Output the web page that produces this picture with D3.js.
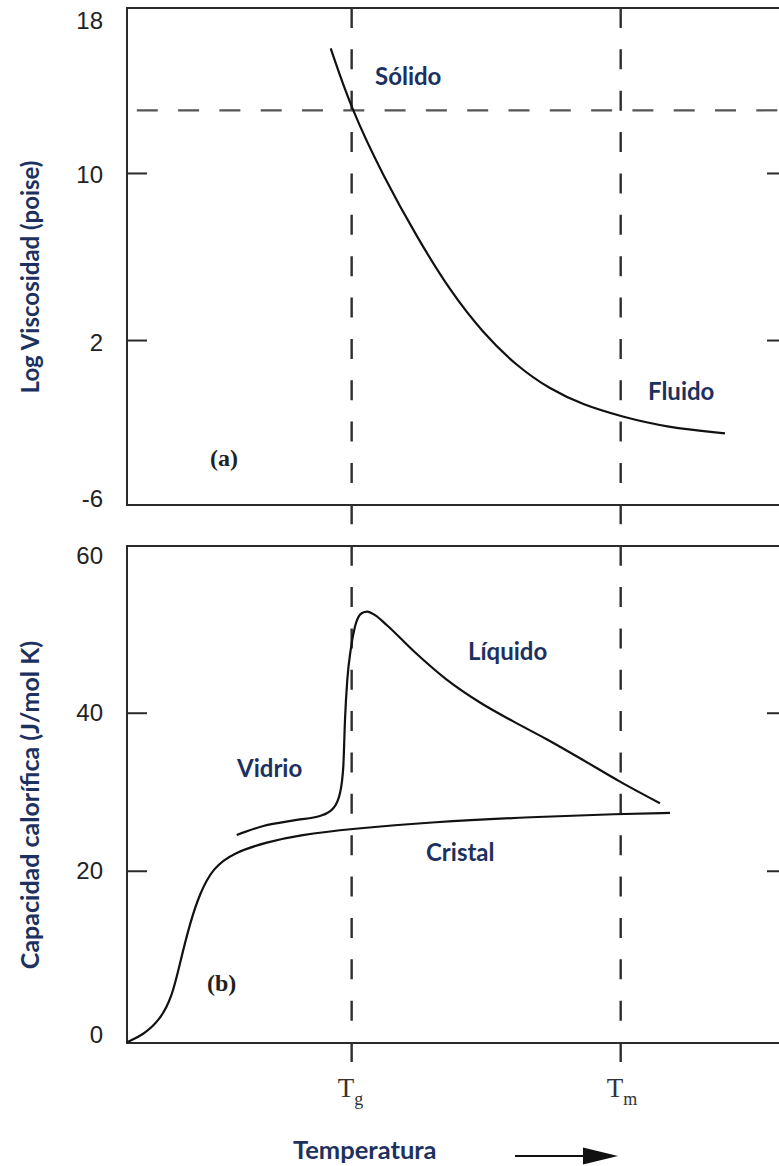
<!DOCTYPE html>
<html>
<head>
<meta charset="utf-8">
<script src="https://cdn.jsdelivr.net/npm/d3@7"></script>
<style>
body { margin: 0; background: #fff; }
text.lbl { font-family: Lato, "Open Sans", sans-serif; font-weight: bold; fill: #1d3160; }
</style>
</head>
<body>
<div id="chart"></div>
<script>
// temperature axis is unitless, 0..101 across the frame
var Tg = 34.38, Tm = 75.55, glassLogVisc = 13;

var viscT   = [31.17, 34.38, 39.22, 44.33, 49.43, 54.52, 59.63, 64.73, 69.82, 75.70, 82.59, 91.51];
var viscLog = [15.97, 13.02, 9.85, 6.95, 4.35, 2.32, 0.75, -0.36, -1.11, -1.67, -2.18, -2.47];

var crystalT  = [0, 2.45, 5.05, 6.89, 8.11, 9.64, 11.17, 13.16, 16.22, 21.42, 26.47, 34.12, 46.83, 62.13, 75.44, 83.09];
var crystalCp = [-1.7, -0.79, 1.11, 4.02, 8.33, 13.39, 17.19, 20.35, 22.25, 23.64, 24.53, 25.29, 26.18, 26.81, 27.19, 27.32];

var glassT  = [16.79, 20.86, 25.97, 29.53, 31.57, 32.59, 33.10, 33.36, 33.71, 34.23, 34.89, 35.91, 36.77, 37.95, 39.74, 43.81, 48.92, 54.02, 59.11, 64.22, 69.32, 75.44, 81.56];
var glassCp = [24.53, 25.67, 26.43, 26.93, 27.91, 29.81, 33.17, 39.09, 44.15, 47.95, 50.90, 52.59, 52.79, 52.35, 51.10, 47.85, 44.20, 41.30, 38.90, 36.64, 34.24, 31.28, 28.54];

var topTicks = [-6, 2, 10, 18];
var botTicks = [0, 20, 40, 60];

var W = 779, H = 1166;

var svg = d3.select('#chart').append('svg')
    .attr('width', W)
    .attr('height', H);

var x = d3.scaleLinear().domain([0, 101]).range([127, 787]);
var yTop = d3.scaleLinear().domain([-5.9, 17.9]).range([505, 8]);
var yBot = d3.scaleLinear().domain([-1.8, 61.1]).range([1043, 546]);

function zip(a, b) {
    return a.map(function(d, i) { return [d, b[i]]; });
}

function frame(y) {
    svg.append('rect')
        .attr('x', x(0))
        .attr('y', y.range()[1])
        .attr('width', x(101) - x(0))
        .attr('height', y.range()[0] - y.range()[1])
        .attr('fill', 'none')
        .attr('stroke', '#2a2a2a')
        .attr('stroke-width', 2);
}

function yAxis(y, ticks, inner, nudge) {
    var g = svg.append('g')
        .attr('transform', 'translate(' + x(0) + ',0)')
        .call(d3.axisLeft(y).tickValues(ticks).tickSize(0).tickPadding(24)
            .tickFormat(function(d) { return String(d); }));
    g.select('.domain').remove();
    g.selectAll('text')
        .attr('font-family', '"Liberation Sans", Arial, sans-serif')
        .attr('font-size', 24)
        .attr('fill', '#222')
        .attr('transform', function(d) { return 'translate(0,' + (nudge[d] || 0) + ')'; });

    // small inner ticks, both sides
    var l = svg.append('g')
        .attr('transform', 'translate(' + x(0) + ',0)')
        .call(d3.axisLeft(y).tickValues(inner).tickSize(-20).tickFormat(''));
    var r = svg.append('g')
        .attr('transform', 'translate(' + x(101) + ',0)')
        .call(d3.axisRight(y).tickValues(inner).tickSize(-20).tickFormat(''));
    [l, r].forEach(function(a) {
        a.select('.domain').remove();
        a.selectAll('line').attr('stroke', '#2a2a2a').attr('stroke-width', 2);
    });
}

frame(yTop);
frame(yBot);
yAxis(yTop, topTicks, [2, 10], {'18': 15, '-6': -8, '10': 2, '2': 3});
yAxis(yBot, botTicks, [20, 40], {'0': 6, '60': 1});

// dashed lines at Tg / Tm running through both panels
svg.selectAll('line.vt')
    .data([Tg, Tm])
    .enter().append('line')
    .attr('class', 'vt')
    .attr('x1', function(d) { return x(d); })
    .attr('x2', function(d) { return x(d); })
    .attr('y1', yTop.range()[1])
    .attr('y2', yBot.range()[0] + 20)
    .attr('stroke', '#2e2e2e')
    .attr('stroke-width', 2.4)
    .attr('stroke-dasharray', '20,21.36');

svg.append('line')
    .attr('x1', x(1.5))
    .attr('x2', x(101))
    .attr('y1', yTop(glassLogVisc))
    .attr('y2', yTop(glassLogVisc))
    .attr('stroke', '#555')
    .attr('stroke-width', 2.2)
    .attr('stroke-dasharray', '21,20.3');

var lineTop = d3.line()
    .x(function(d) { return x(d[0]); })
    .y(function(d) { return yTop(d[1]); })
    .curve(d3.curveBasis);

var lineBot = d3.line()
    .x(function(d) { return x(d[0]); })
    .y(function(d) { return yBot(d[1]); })
    .curve(d3.curveBasis);

var lineSharp = d3.line()
    .x(function(d) { return x(d[0]); })
    .y(function(d) { return yBot(d[1]); })
    .curve(d3.curveMonotoneX);

svg.append('path')
    .attr('d', lineTop(zip(viscT, viscLog)))
    .attr('fill', 'none')
    .attr('stroke', '#111')
    .attr('stroke-width', 2.2);

svg.append('path')
    .attr('d', lineBot(zip(crystalT, crystalCp)))
    .attr('fill', 'none')
    .attr('stroke', '#111')
    .attr('stroke-width', 2.2);

svg.append('path')
    .attr('d', lineSharp(zip(glassT, glassCp)))
    .attr('fill', 'none')
    .attr('stroke', '#111')
    .attr('stroke-width', 2.2);

// labels
var labels = [
    {t: 'Sólido', x: 375, y: 85, s: 24},
    {t: 'Fluido', x: 648, y: 400, s: 24},
    {t: 'Líquido', x: 468, y: 660, s: 24},
    {t: 'Vidrio', x: 237, y: 777, s: 24},
    {t: 'Cristal', x: 426, y: 861, s: 24},
    {t: 'Temperatura', x: 293, y: 1159, s: 25.5}
];
svg.selectAll('text.lbl')
    .data(labels)
    .enter().append('text')
    .attr('class', 'lbl')
    .attr('x', function(d) { return d.x; })
    .attr('y', function(d) { return d.y; })
    .attr('font-size', function(d) { return d.s; })
    .text(function(d) { return d.t; });

svg.append('text')
    .attr('class', 'lbl')
    .attr('transform', 'translate(39,277) rotate(-90)')
    .attr('text-anchor', 'middle')
    .attr('font-size', 24)
    .text('Log Viscosidad (poise)');

svg.append('text')
    .attr('class', 'lbl')
    .attr('transform', 'translate(39,805) rotate(-90)')
    .attr('text-anchor', 'middle')
    .attr('font-size', 25)
    .text('Capacidad calorífica (J/mol K)');

[['(a)', 210, 466], ['(b)', 207, 991]].forEach(function(p) {
    svg.append('text')
        .attr('x', p[1])
        .attr('y', p[2])
        .attr('font-family', '"Liberation Serif", "DejaVu Serif", serif')
        .attr('font-weight', 'bold')
        .attr('font-size', 24)
        .attr('fill', '#222')
        .text(p[0]);
});

// T_g, T_m below the axis
[[Tg, 'g'], [Tm, 'm']].forEach(function(p) {
    var t = svg.append('text')
        .attr('x', x(p[0]) - 14)
        .attr('y', 1097)
        .attr('font-family', '"Liberation Serif", "DejaVu Serif", serif')
        .attr('font-size', 27)
        .attr('fill', '#333')
        .text('T');
    t.append('tspan')
        .attr('font-size', 18)
        .attr('dy', 8)
        .text(p[1]);
});

// arrow
svg.append('line')
    .attr('x1', 515).attr('x2', 590)
    .attr('y1', 1156).attr('y2', 1156)
    .attr('stroke', '#111')
    .attr('stroke-width', 1.8);
svg.append('path')
    .attr('d', 'M583,1147.5 L618,1156 L583,1164.5 Z')
    .attr('fill', '#111');
</script>
</body>
</html>
